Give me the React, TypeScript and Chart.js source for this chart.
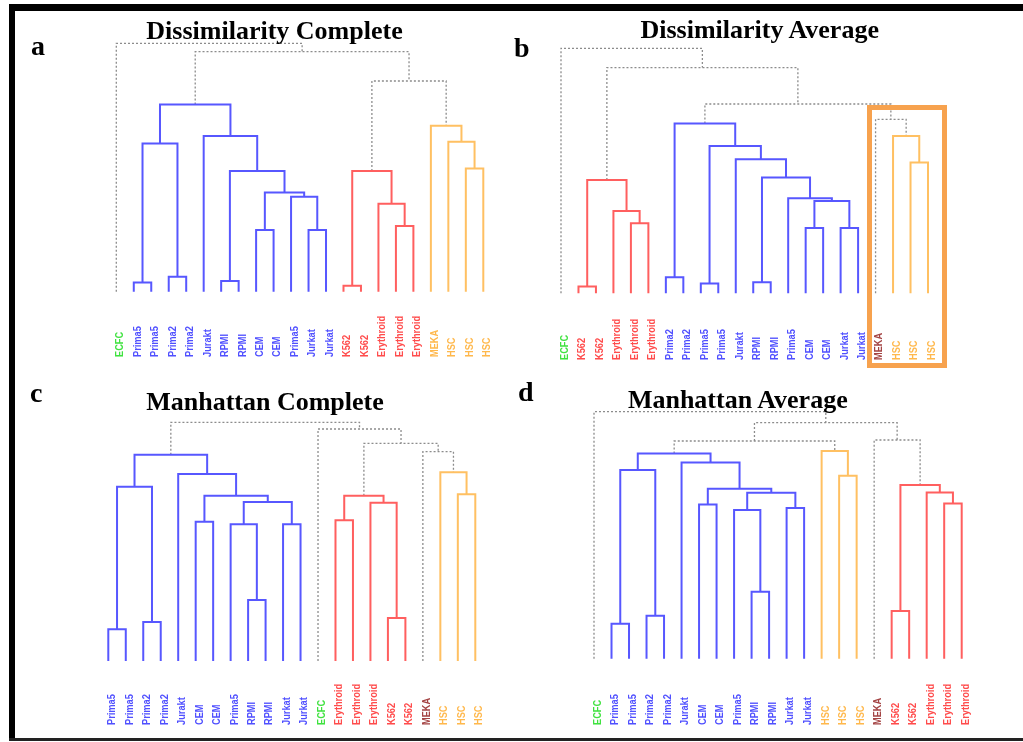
import { useEffect, useRef } from "react";
import { Chart, registerables } from "chart.js";

Chart.register(...registerables);

// ---- Dendrogram data (hclust-style merges: negative = leaf index (1-based), positive = earlier merge row) ----

// a) Dissimilarity, complete linkage
const dissCompleteLabels = ["ECFC", "Prima5", "Prima5", "Prima2", "Prima2", "Jurakt", "RPMI", "RPMI", "CEM", "CEM", "Prima5", "Jurkat", "Jurkat", "K562", "K562", "Erythroid", "Erythroid", "Erythroid", "MEKA", "HSC", "HSC", "HSC"];
const dissCompleteLeafGroups = ["ecfc", "blue", "blue", "blue", "blue", "blue", "blue", "blue", "blue", "blue", "blue", "blue", "blue", "red", "red", "red", "red", "red", "orange", "orange", "orange", "orange"];
const dissCompleteMerges = [[-2, -3], [-4, -5], [1, 2], [-7, -8], [-9, -10], [-12, -13], [-11, 6], [5, 7], [4, 8], [-6, 9], [3, 10], [-14, -15], [-17, -18], [-16, 13], [12, 14], [-21, -22], [-20, 16], [-19, 17], [15, 18], [11, 19], [-1, 20]];
const dissCompleteHeights = [9.3, 15, 148.3, 10.7, 61.7, 61.7, 95, 99.3, 120.7, 155.7, 187.3, 6, 65.7, 88, 120.7, 123.3, 150, 166, 210.7, 240, 248.3];
const dissCompleteMergeGroups = ["blue", "blue", "blue", "blue", "blue", "blue", "blue", "blue", "blue", "blue", "blue", "red", "red", "red", "red", "orange", "orange", "orange", "none", "none", "none"];

// b) Dissimilarity, average linkage
const dissAverageLabels = ["ECFC", "K562", "K562", "Erythroid", "Erythroid", "Erythroid", "Prima2", "Prima2", "Prima5", "Prima5", "Jurakt", "RPMI", "RPMI", "Prima5", "CEM", "CEM", "Jurkat", "Jurkat", "MEKA", "HSC", "HSC", "HSC"];
const dissAverageLeafGroups = ["ecfc", "red", "red", "red", "red", "red", "blue", "blue", "blue", "blue", "blue", "blue", "blue", "blue", "blue", "blue", "blue", "blue", "meka", "orange", "orange", "orange"];
const dissAverageMerges = [[-2, -3], [-5, -6], [-4, 2], [1, 3], [-7, -8], [-9, -10], [-15, -16], [-17, -18], [7, 8], [-14, 9], [-12, -13], [11, 10], [-11, 12], [6, 13], [5, 14], [-21, -22], [-20, 16], [-19, 17], [15, 18], [4, 19], [-1, 20]];
const dissAverageHeights = [6.7, 70, 82.3, 113.3, 16, 9.7, 65.3, 65.3, 92.3, 95, 11, 115.7, 134, 147.3, 169.7, 130.7, 157.3, 174, 189.3, 225.7, 245];
const dissAverageMergeGroups = ["red", "red", "red", "red", "blue", "blue", "blue", "blue", "blue", "blue", "blue", "blue", "blue", "blue", "blue", "orange", "orange", "none", "none", "none", "none"];

// c) Manhattan, complete linkage
const manhCompleteLabels = ["Prima5", "Prima5", "Prima2", "Prima2", "Jurakt", "CEM", "CEM", "Prima5", "RPMI", "RPMI", "Jurkat", "Jurkat", "ECFC", "Erythroid", "Erythroid", "Erythroid", "K562", "K562", "MEKA", "HSC", "HSC", "HSC"];
const manhCompleteLeafGroups = ["blue", "blue", "blue", "blue", "blue", "blue", "blue", "blue", "blue", "blue", "blue", "blue", "ecfc", "red", "red", "red", "red", "red", "meka", "orange", "orange", "orange"];
const manhCompleteMerges = [[-1, -2], [-3, -4], [1, 2], [-6, -7], [-9, -10], [-8, 5], [-11, -12], [6, 7], [4, 8], [-5, 9], [3, 10], [-14, -15], [-17, -18], [-16, 13], [12, 14], [-21, -22], [-20, 16], [-19, 17], [15, 18], [-13, 19], [11, 20]];
const manhCompleteHeights = [31.7, 39, 174.3, 139.3, 61, 136.7, 136.7, 159, 165.3, 187, 206.3, 140.7, 43, 158.3, 165.3, 166.7, 188.7, 209.3, 217.7, 232, 238.7];
const manhCompleteMergeGroups = ["blue", "blue", "blue", "blue", "blue", "blue", "blue", "blue", "blue", "blue", "blue", "red", "red", "red", "red", "orange", "orange", "none", "none", "none", "none"];

// d) Manhattan, average linkage
const manhAverageLabels = ["ECFC", "Prima5", "Prima5", "Prima2", "Prima2", "Jurakt", "CEM", "CEM", "Prima5", "RPMI", "RPMI", "Jurkat", "Jurkat", "HSC", "HSC", "HSC", "MEKA", "K562", "K562", "Erythroid", "Erythroid", "Erythroid"];
const manhAverageLeafGroups = ["ecfc", "blue", "blue", "blue", "blue", "blue", "blue", "blue", "blue", "blue", "blue", "blue", "blue", "orange", "orange", "orange", "meka", "red", "red", "red", "red", "red"];
const manhAverageMerges = [[-2, -3], [-4, -5], [1, 2], [-7, -8], [-10, -11], [-9, 5], [-12, -13], [6, 7], [4, 8], [-6, 9], [3, 10], [-15, -16], [-14, 12], [11, 13], [-18, -19], [-21, -22], [-20, 16], [15, 17], [-17, 18], [14, 19], [-1, 20]];
const manhAverageHeights = [35, 43, 188.7, 154.3, 67, 148.7, 150.7, 166, 170, 196.3, 205.3, 183, 207.7, 217.7, 47.7, 155.3, 166.3, 173.7, 218.7, 236, 247];
const manhAverageMergeGroups = ["blue", "blue", "blue", "blue", "blue", "blue", "blue", "blue", "blue", "blue", "blue", "orange", "orange", "none", "red", "red", "red", "red", "none", "none", "none"];

// ---- Styling ----
const LINE_COLORS: Record<string, string> = {
  blue: "#5757FF",
  red: "#FF5F5F",
  orange: "#FFC062",
  none: "#8C8C8C",
};
const LABEL_COLORS: Record<string, string> = {
  blue: "#5050FF",
  red: "#FF4C4C",
  orange: "#FFB84C",
  ecfc: "#3FE23F",
  meka: "#A44444",
};

type TreeSpec = {
  labels: string[];
  leafGroups: string[];
  merges: number[][];
  heights: number[];
  mergeGroups: string[];
};

type PanelSpec = {
  tree: TreeSpec;
  // canvas box on the page
  left: number;
  top: number;
  width: number;
  height: number;
  // page coordinates of first/last leaf and of the leaf baseline
  firstLeafX: number;
  lastLeafX: number;
  baseY: number;
  labelBottomY: number;
  yMax: number;
};

const panels: PanelSpec[] = [
  {
    tree: { labels: dissCompleteLabels, leafGroups: dissCompleteLeafGroups, merges: dissCompleteMerges, heights: dissCompleteHeights, mergeGroups: dissCompleteMergeGroups },
    left: 15, top: 12, width: 495, height: 360,
    firstLeafX: 116.3, lastLeafX: 483.3, baseY: 291.7, labelBottomY: 357, yMax: 260,
  },
  {
    tree: { labels: dissAverageLabels, leafGroups: dissAverageLeafGroups, merges: dissAverageMerges, heights: dissAverageHeights, mergeGroups: dissAverageMergeGroups },
    left: 510, top: 12, width: 513, height: 360,
    firstLeafX: 561, lastLeafX: 928, baseY: 293.3, labelBottomY: 360, yMax: 260,
  },
  {
    tree: { labels: manhCompleteLabels, leafGroups: manhCompleteLeafGroups, merges: manhCompleteMerges, heights: manhCompleteHeights, mergeGroups: manhCompleteMergeGroups },
    left: 15, top: 372, width: 495, height: 366,
    firstLeafX: 108.3, lastLeafX: 475.3, baseY: 661, labelBottomY: 725, yMax: 260,
  },
  {
    tree: { labels: manhAverageLabels, leafGroups: manhAverageLeafGroups, merges: manhAverageMerges, heights: manhAverageHeights, mergeGroups: manhAverageMergeGroups },
    left: 510, top: 372, width: 513, height: 366,
    firstLeafX: 594, lastLeafX: 961.7, baseY: 658.7, labelBottomY: 725, yMax: 260,
  },
];

// Build one U-shaped link per merge; node x = midpoint of its two children.
function buildDatasets(tree: TreeSpec) {
  const nodeX: number[] = [];
  const xOf = (ref: number) => (ref < 0 ? -ref - 1 : nodeX[ref - 1]);
  const hOf = (ref: number) => (ref < 0 ? 0 : tree.heights[ref - 1]);
  return tree.merges.map(([l, r], i) => {
    const x1 = xOf(l);
    const x2 = xOf(r);
    nodeX[i] = (x1 + x2) / 2;
    const h = tree.heights[i];
    const group = tree.mergeGroups[i];
    const isLink = group === "none";
    return {
      data: [
        { x: x1, y: hOf(l) },
        { x: x1, y: h },
        { x: x2, y: h },
        { x: x2, y: hOf(r) },
      ],
      showLine: true,
      fill: false,
      tension: 0,
      pointRadius: 0,
      borderColor: LINE_COLORS[group],
      borderWidth: isLink ? 1.3 : 2,
      borderDash: isLink ? [2, 2] : [],
      borderCapStyle: "butt" as const,
      borderJoinStyle: "miter" as const,
      clip: false as const,
      order: isLink ? 1 : 0,
    };
  });
}

function DendrogramPanel({ spec }: { spec: PanelSpec }) {
  const ref = useRef<HTMLCanvasElement | null>(null);

  useEffect(() => {
    const canvas = ref.current;
    if (!canvas) return;
    const n = spec.tree.labels.length;
    const step = (spec.lastLeafX - spec.firstLeafX) / (n - 1);
    const xMinPx = spec.firstLeafX - step / 2;
    const xMaxPx = spec.lastLeafX + step / 2;

    // vertical leaf labels, reading upward from a common bottom line, slightly condensed
    const leafLabels = {
      id: "leafLabels",
      afterDatasetsDraw(chart: Chart) {
        const ctx = chart.ctx;
        const xs = chart.scales.x;
        ctx.save();
        ctx.font = 'bold 10.5px "Liberation Sans", Arial, sans-serif';
        ctx.textAlign = "left";
        ctx.textBaseline = "middle";
        spec.tree.labels.forEach((label, i) => {
          const x = xs.getPixelForValue(i) + 4;
          ctx.save();
          ctx.translate(x, spec.labelBottomY - spec.top);
          ctx.rotate(-Math.PI / 2);
          ctx.scale(0.88, 1);
          ctx.fillStyle = LABEL_COLORS[spec.tree.leafGroups[i]];
          ctx.fillText(label, 0, 0);
          ctx.restore();
        });
        ctx.restore();
      },
    };

    const chart = new Chart(canvas, {
      type: "scatter",
      data: { datasets: buildDatasets(spec.tree) as any },
      options: {
        responsive: false,
        animation: false,
        events: [],
        layout: {
          padding: {
            left: xMinPx - spec.left,
            right: spec.left + spec.width - xMaxPx,
            top: spec.baseY - spec.yMax - spec.top,
            bottom: spec.top + spec.height - spec.baseY,
          },
        },
        plugins: { legend: { display: false }, tooltip: { enabled: false }, title: { display: false } },
        scales: {
          x: { type: "linear", min: -0.5, max: n - 0.5, display: false },
          y: { type: "linear", min: 0, max: spec.yMax, display: false },
        },
      },
      plugins: [leafLabels],
    });
    return () => chart.destroy();
  }, [spec]);

  return (
    <canvas
      ref={ref}
      width={spec.width}
      height={spec.height}
      style={{ position: "absolute", left: spec.left, top: spec.top, width: spec.width, height: spec.height }}
    />
  );
}

const titleStyle = (cx: number, top: number): React.CSSProperties => ({
  position: "absolute",
  left: cx,
  top,
  transform: "translateX(-50%)",
  font: 'bold 26px "Liberation Serif", "Times New Roman", serif',
  lineHeight: "26px",
  whiteSpace: "nowrap",
  color: "#000",
});

const letterStyle = (left: number, top: number): React.CSSProperties => ({
  position: "absolute",
  left,
  top,
  font: 'bold 28px "Liberation Serif", "Times New Roman", serif',
  lineHeight: "28px",
  color: "#000",
});

export default function App() {
  return (
    <div style={{ position: "absolute", left: 0, top: 0, width: 1023, height: 742, background: "#fff", overflow: "hidden" }}>
      {/* frame */}
      <div style={{ position: "absolute", left: 9, top: 4, width: 1014, height: 7, background: "#000" }} />
      <div style={{ position: "absolute", left: 9, top: 4, width: 6, height: 737, background: "#000" }} />
      <div style={{ position: "absolute", left: 9, top: 738, width: 1014, height: 3, background: "#222" }} />

      {panels.map((p, i) => (
        <DendrogramPanel key={i} spec={p} />
      ))}

      {/* highlight around MEKA / HSC in panel b */}
      <div style={{ position: "absolute", left: 867, top: 105, width: 80, height: 263, boxSizing: "border-box", border: "5px solid #F7A24E" }} />

      <div style={titleStyle(274.5, 17.5)}>Dissimilarity Complete</div>
      <div style={titleStyle(759.7, 16.5)}>Dissimilarity Average</div>
      <div style={titleStyle(265, 389)}>Manhattan Complete</div>
      <div style={titleStyle(737.8, 386.5)}>Manhattan Average</div>

      <div style={letterStyle(31, 31.5)}>a</div>
      <div style={letterStyle(514, 33.5)}>b</div>
      <div style={letterStyle(30, 379)}>c</div>
      <div style={letterStyle(518, 378)}>d</div>
    </div>
  );
}
